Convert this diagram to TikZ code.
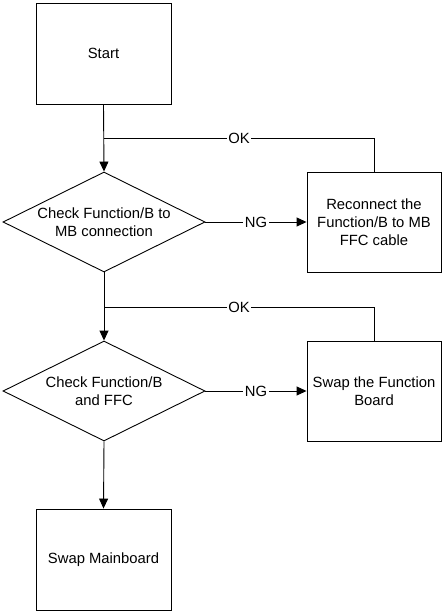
\documentclass[tikz,border=0pt]{standalone}
\usepackage{fontspec}
\setmainfont{Liberation Sans}
\usetikzlibrary{shapes.geometric,arrows.meta}
\begin{document}
\begin{tikzpicture}[x=1pt,y=-1pt,
  every node/.style={font=\fontsize{14.8}{18}\selectfont, text=black},
  boxnode/.style={draw, line width=0.9pt, rectangle, inner sep=0pt, align=center},
  decnode/.style={draw, line width=0.9pt, diamond, shape aspect=2, inner sep=0pt, minimum width=202pt, minimum height=100pt, align=center},
  conn/.style={line width=0.9pt},
  arr/.style={conn, -{Triangle[length=10pt,width=9pt]}},
  lbl/.style={fill=white, inner sep=1.5pt}]
\useasboundingbox (0,0) rectangle (443,612);
\node[boxnode, minimum width=135pt, minimum height=101pt] (start) at (103.5,53.5) {Start};
\node[decnode] (d1) at (104,222) {Check Function/B to\\MB connection};
\node[boxnode, minimum width=134pt, minimum height=100pt] (b2) at (374,222) {Reconnect the\\Function/B to MB\\FFC cable};
\node[decnode] (d2) at (104,391) {Check Function/B\\and FFC};
\node[boxnode, minimum width=134pt, minimum height=100pt] (b3) at (374,391) {Swap the Function\\Board};
\node[boxnode, minimum width=135pt, minimum height=101pt] (b4) at (103.5,559.5) {Swap Mainboard};
\coordinate (j1) at (104,138);
\coordinate (j2) at (104,307);
\draw[arr] (start.south) -- (d1.north);
\draw[conn] (b2.north) |- node[lbl, pos=0.75] {OK} (j1);
\draw[arr] (d1.east) -- node[lbl] {NG} (b2.west);
\draw[arr] (d1.south) -- (d2.north);
\draw[conn] (b3.north) |- node[lbl, pos=0.75] {OK} (j2);
\draw[arr] (d2.east) -- node[lbl] {NG} (b3.west);
\draw[arr] (d2.south) -- (b4.north);
\end{tikzpicture}
\end{document}
